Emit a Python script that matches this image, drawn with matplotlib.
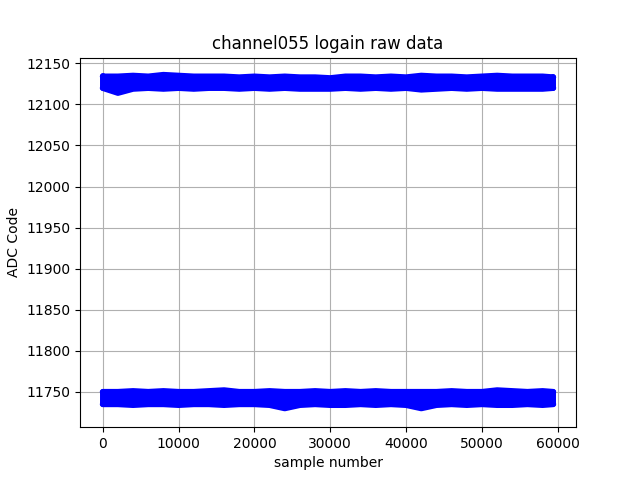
import numpy as np
import matplotlib
matplotlib.use("Agg")
import matplotlib.pyplot as plt

sample_pos = [0, 2000, 4000, 6000, 8000, 10000, 12000, 14000, 16000, 18000,
              20000, 22000, 24000, 26000, 28000, 30000, 32000, 34000, 36000,
              38000, 40000, 42000, 44000, 46000, 48000, 50000, 52000, 54000,
              56000, 58000, 59400]

# upper band (ADC code), top and bottom envelope
hi_top = [12134, 12134, 12135, 12134, 12136, 12135, 12134, 12134, 12134, 12133,
          12134, 12133, 12134, 12133, 12133, 12132, 12134, 12134, 12133, 12134,
          12133, 12135, 12134, 12134, 12133, 12134, 12135, 12134, 12134, 12134, 12133]
hi_bot = [12120, 12114, 12119, 12120, 12119, 12120, 12119, 12120, 12120, 12119,
          12120, 12119, 12120, 12119, 12119, 12119, 12120, 12119, 12120, 12119,
          12120, 12118, 12119, 12120, 12119, 12120, 12119, 12119, 12119, 12119, 12120]

# lower band (ADC code), top and bottom envelope
lo_top = [11750, 11750, 11751, 11750, 11751, 11750, 11750, 11751, 11752, 11750,
          11750, 11751, 11750, 11750, 11751, 11750, 11751, 11750, 11751, 11750,
          11750, 11750, 11750, 11751, 11750, 11750, 11752, 11751, 11750, 11751, 11750]
lo_bot = [11735, 11735, 11734, 11735, 11735, 11734, 11735, 11735, 11734, 11735,
          11735, 11734, 11730, 11734, 11735, 11734, 11734, 11735, 11734, 11735,
          11734, 11730, 11734, 11735, 11734, 11735, 11734, 11734, 11735, 11734, 11735]

fig, ax = plt.subplots(figsize=(6.4, 4.8), dpi=100)

for top, bot in [(hi_top, hi_bot), (lo_top, lo_bot)]:
    ax.fill_between(sample_pos, bot, top, color="blue", linewidth=0, zorder=2)
    ax.plot(sample_pos, top, "b-", linewidth=4.3, solid_capstyle="round",
            solid_joinstyle="round", zorder=2)
    ax.plot(sample_pos, bot, "b-", linewidth=4.3, solid_capstyle="round",
            solid_joinstyle="round", zorder=2)
    ax.plot([sample_pos[0], sample_pos[0]], [bot[0], top[0]], "b-", linewidth=4.3,
            solid_capstyle="round", zorder=2)
    ax.plot([sample_pos[-1], sample_pos[-1]], [bot[-1], top[-1]], "b-", linewidth=4.3,
            solid_capstyle="round", zorder=2)

ax.set_xlim(-3000, 62400)
ax.set_ylim(11707, 12157)
ax.set_title("channel055 logain raw data")
ax.set_xlabel("sample number")
ax.set_ylabel("ADC Code")
ax.grid(True)

plt.savefig("out.png", dpi=100)
